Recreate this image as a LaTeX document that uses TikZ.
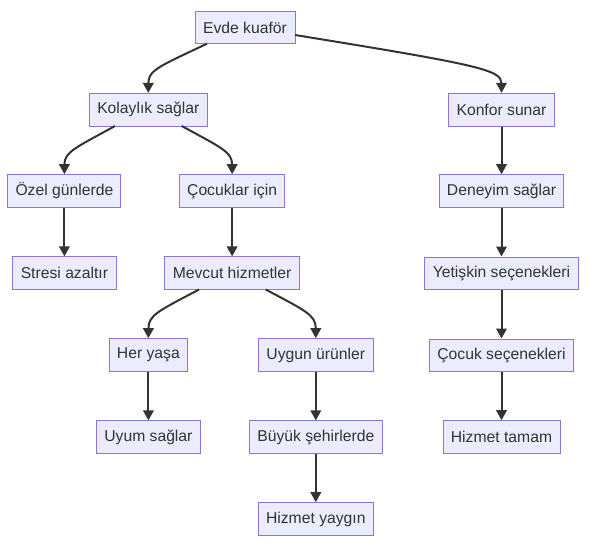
\documentclass[tikz,border=0pt]{standalone}
\usepackage{fontspec}
\setmainfont{Liberation Sans}
\usetikzlibrary{arrows.meta}
\definecolor{nodefill}{HTML}{ECECFF}
\definecolor{nodeline}{HTML}{9370DB}
\definecolor{ink}{HTML}{333333}
\tikzset{
  box/.style={draw=nodeline, line width=1pt, fill=nodefill, text=ink,
    minimum height=32.6pt, inner sep=0pt, font=\fontsize{15.7}{19}\selectfont},
  conn/.style={draw=ink, line width=2pt, -{Triangle[length=10pt,width=10.5pt]}},
}
\begin{document}
\begin{tikzpicture}[x=1pt,y=-1pt]
\useasboundingbox (0,0) rectangle (594,547);
\node[box, minimum width=100pt]   (A) at (245,27.4) {Evde kuaför};
\node[box, minimum width=118pt]   (B) at (148.3,109.7) {Kolaylık sağlar};
\node[box, minimum width=106pt]   (C) at (501.5,109.7) {Konfor sunar};
\node[box, minimum width=113pt]   (D) at (64.4,191) {Özel günlerde};
\node[box, minimum width=105.7pt] (E) at (232.1,191) {Çocuklar için};
\node[box, minimum width=124.7pt] (F) at (501.5,191) {Deneyim sağlar};
\node[box, minimum width=103.3pt] (G) at (64.4,273.2) {Stresi azaltır};
\node[box, minimum width=134.6pt] (H) at (232.1,273.2) {Mevcut hizmetler};
\node[box, minimum width=153.6pt] (I) at (501.5,273.3) {Yetişkin seçenekleri};
\node[box, minimum width=78pt]    (J) at (148.4,355) {Her yaşa};
\node[box, minimum width=114.7pt] (K) at (315.8,355) {Uygun ürünler};
\node[box, minimum width=144.4pt] (L) at (501.5,355.3) {Çocuk seçenekleri};
\node[box, minimum width=103.6pt] (M) at (148.4,437.2) {Uyum sağlar};
\node[box, minimum width=133pt]   (N) at (315.8,437.2) {Büyük şehirlerde};
\node[box, minimum width=117pt]   (O) at (501.5,437) {Hizmet tamam};
\node[box, minimum width=115pt]   (P) at (315.8,519) {Hizmet yaygın};

\coordinate (A1) at (207,43.7);
\coordinate (A2) at (295,35);
\coordinate (B1) at (115,126);
\coordinate (B2) at (181.7,126);
\coordinate (H1) at (199,289.5);
\coordinate (H2) at (265.7,289.5);

\draw[conn] (A1) .. controls (160,66) and (148.3,70) .. (B.north);
\draw[conn] (A2) .. controls (480,65) and (501.5,70) .. (C.north);
\draw[conn] (B1) .. controls (75,148) and (64.4,152) .. (D.north);
\draw[conn] (B2) .. controls (222,148) and (232.1,152) .. (E.north);
\draw[conn] (H1) .. controls (158.5,311) and (148.4,315) .. (J.north);
\draw[conn] (H2) .. controls (306,311) and (315.8,315) .. (K.north);
\draw[conn] (C) -- (F);
\draw[conn] (D) -- (G);
\draw[conn] (E) -- (H);
\draw[conn] (F) -- (I);
\draw[conn] (I) -- (L);
\draw[conn] (L) -- (O);
\draw[conn] (J) -- (M);
\draw[conn] (K) -- (N);
\draw[conn] (N) -- (P);
\end{tikzpicture}
\end{document}
